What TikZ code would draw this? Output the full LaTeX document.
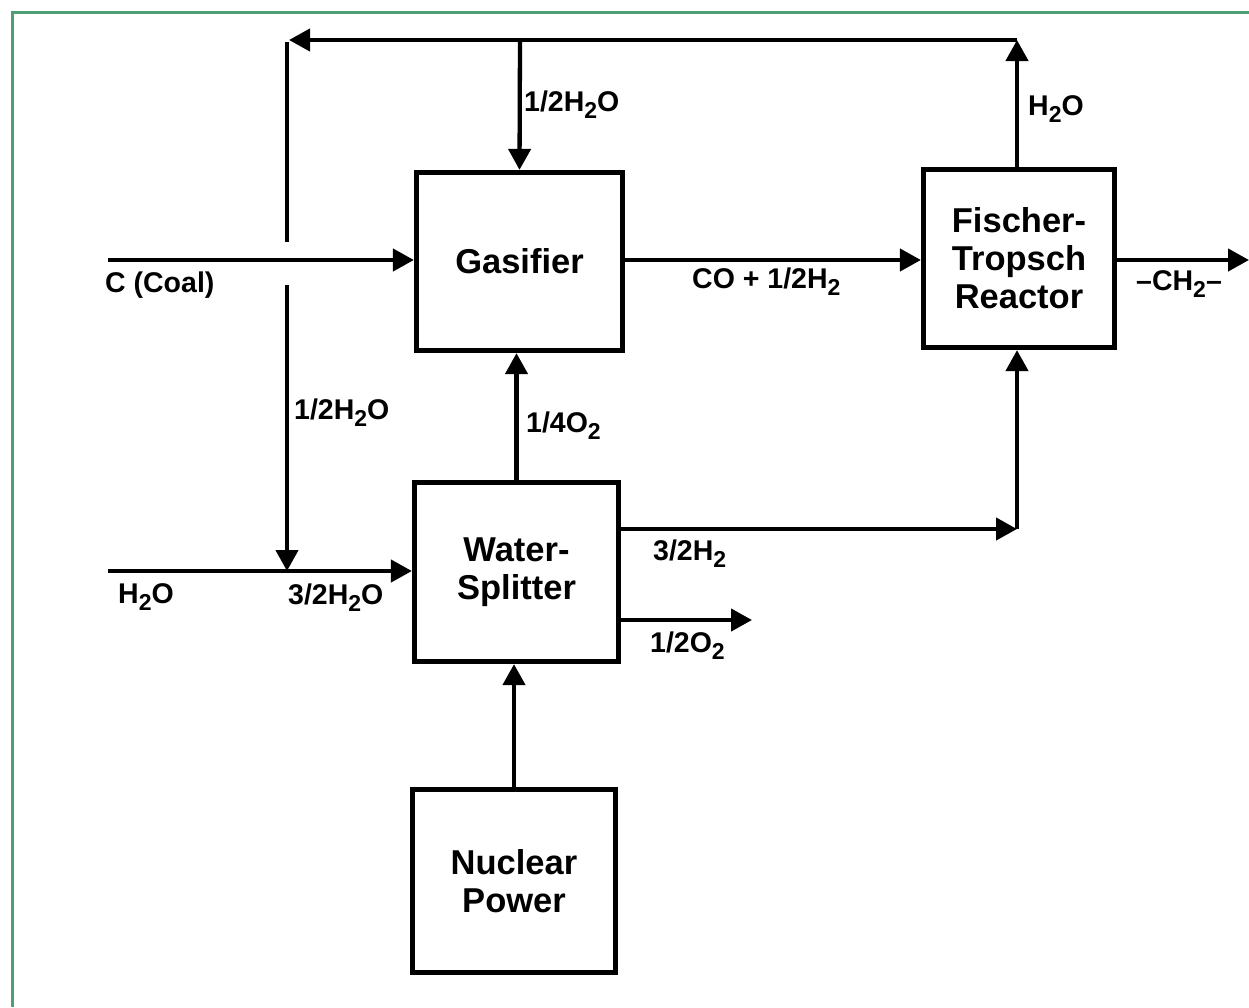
\documentclass[tikz,border=0pt]{standalone}
\usepackage{fontspec}
\setmainfont{Liberation Sans}
\usetikzlibrary{arrows.meta}
\newcommand{\sbs}[1]{\raisebox{-0.25em}{\fontsize{23}{23}\selectfont #1}}
\definecolor{frame}{RGB}{76,160,115}
\tikzset{
  box/.style={draw, line width=5.2pt, rectangle, inner sep=0pt, align=center,
    font=\fontsize{34.5}{38}\selectfont\bfseries},
  flow/.style={line width=4.3pt, -{Triangle[length=21pt,width=22pt]}},
  lab/.style={inner sep=0pt, anchor=base west, font=\fontsize{28.5}{30}\selectfont\bfseries}
}
\begin{document}
\begin{tikzpicture}[x=1pt,y=-1pt]
\useasboundingbox (0,0) rectangle (1249,1007);
\draw[frame, line width=3pt] (12,1007) -- (12,12) -- (1249,12);

% boxes
\node[box, minimum width=206pt, minimum height=178pt] (gas) at (519.5,261.5) {Gasifier};
\node[box, minimum width=191pt, minimum height=178pt] (ft) at (1019,258.5) {Fischer-\\Tropsch\\Reactor};
\node[box, minimum width=204pt, minimum height=179pt] (ws) at (516.5,572) {Water-\\Splitter};
\node[box, minimum width=203pt, minimum height=183pt] (np) at (514,881) {Nuclear\\Power};

% coordinates
\coordinate (ftup) at (1017,40);
\coordinate (corner) at (287,40);
\coordinate (tee) at (520,40);
\coordinate (coalin) at (108,260);
\coordinate (h2oin) at (108,571);
\coordinate (mix) at (287,571);
\coordinate (hturn) at (1017,529);
\coordinate (o2out) at (752,620);
\coordinate (ch2out) at (1249,260);
\coordinate (gapA) at (287,242);
\coordinate (gapB) at (287,285);

% recycle loop
\draw[flow] (ft.north -| ftup) -- (ftup);
\draw[flow] ([yshift=-2.15pt]corner) -- (mix);
\draw[flow] (ftup) -- ([xshift=2pt]corner);
\draw[white, line width=9pt] (gapA) -- (gapB);
\draw[flow] (tee) -- (gas.north);

% coal
\draw[flow] (coalin) -- (coalin -| gas.west);
% gas to FT
\draw[flow] (gas.east |- coalin) -- (ft.west |- coalin);
% FT product
\draw[flow] (ft.east |- coalin) -- (ch2out);

% water
\draw[flow] (h2oin) -- (h2oin -| ws.west);
% WS to gasifier
\draw[flow] (ws.north) -- (ws.north |- gas.south);
% WS to FT
\draw[flow] (ws.east |- hturn) -- (hturn);
\draw[flow] (hturn) -- (ft.south -| hturn);
% WS O2
\draw[flow] (ws.east |- o2out) -- (o2out);
% nuclear
\draw[flow] (np.north) -- (np.north |- ws.south);

% labels
\node[lab] (l1) at (524,111) {1/2H\sbs{2}O};
\node[lab] (l2) at (1028,115) {H\sbs{2}O};
\node[lab] (l3) at (105,292) {C (Coal)};
\node[lab] (l4) at (692,288) {CO + 1/2H\sbs{2}};
\node[lab] (l5) at (1136,290) {–CH\sbs{2}–};
\node[lab] (l6) at (294,419) {1/2H\sbs{2}O};
\node[lab] (l7) at (526,432) {1/4O\sbs{2}};
\node[lab] (l8) at (118,603) {H\sbs{2}O};
\node[lab] (l9) at (288,604) {3/2H\sbs{2}O};
\node[lab] (l10) at (653,560) {3/2H\sbs{2}};
\node[lab] (l11) at (650,652) {1/2O\sbs{2}};
\end{tikzpicture}
\end{document}
